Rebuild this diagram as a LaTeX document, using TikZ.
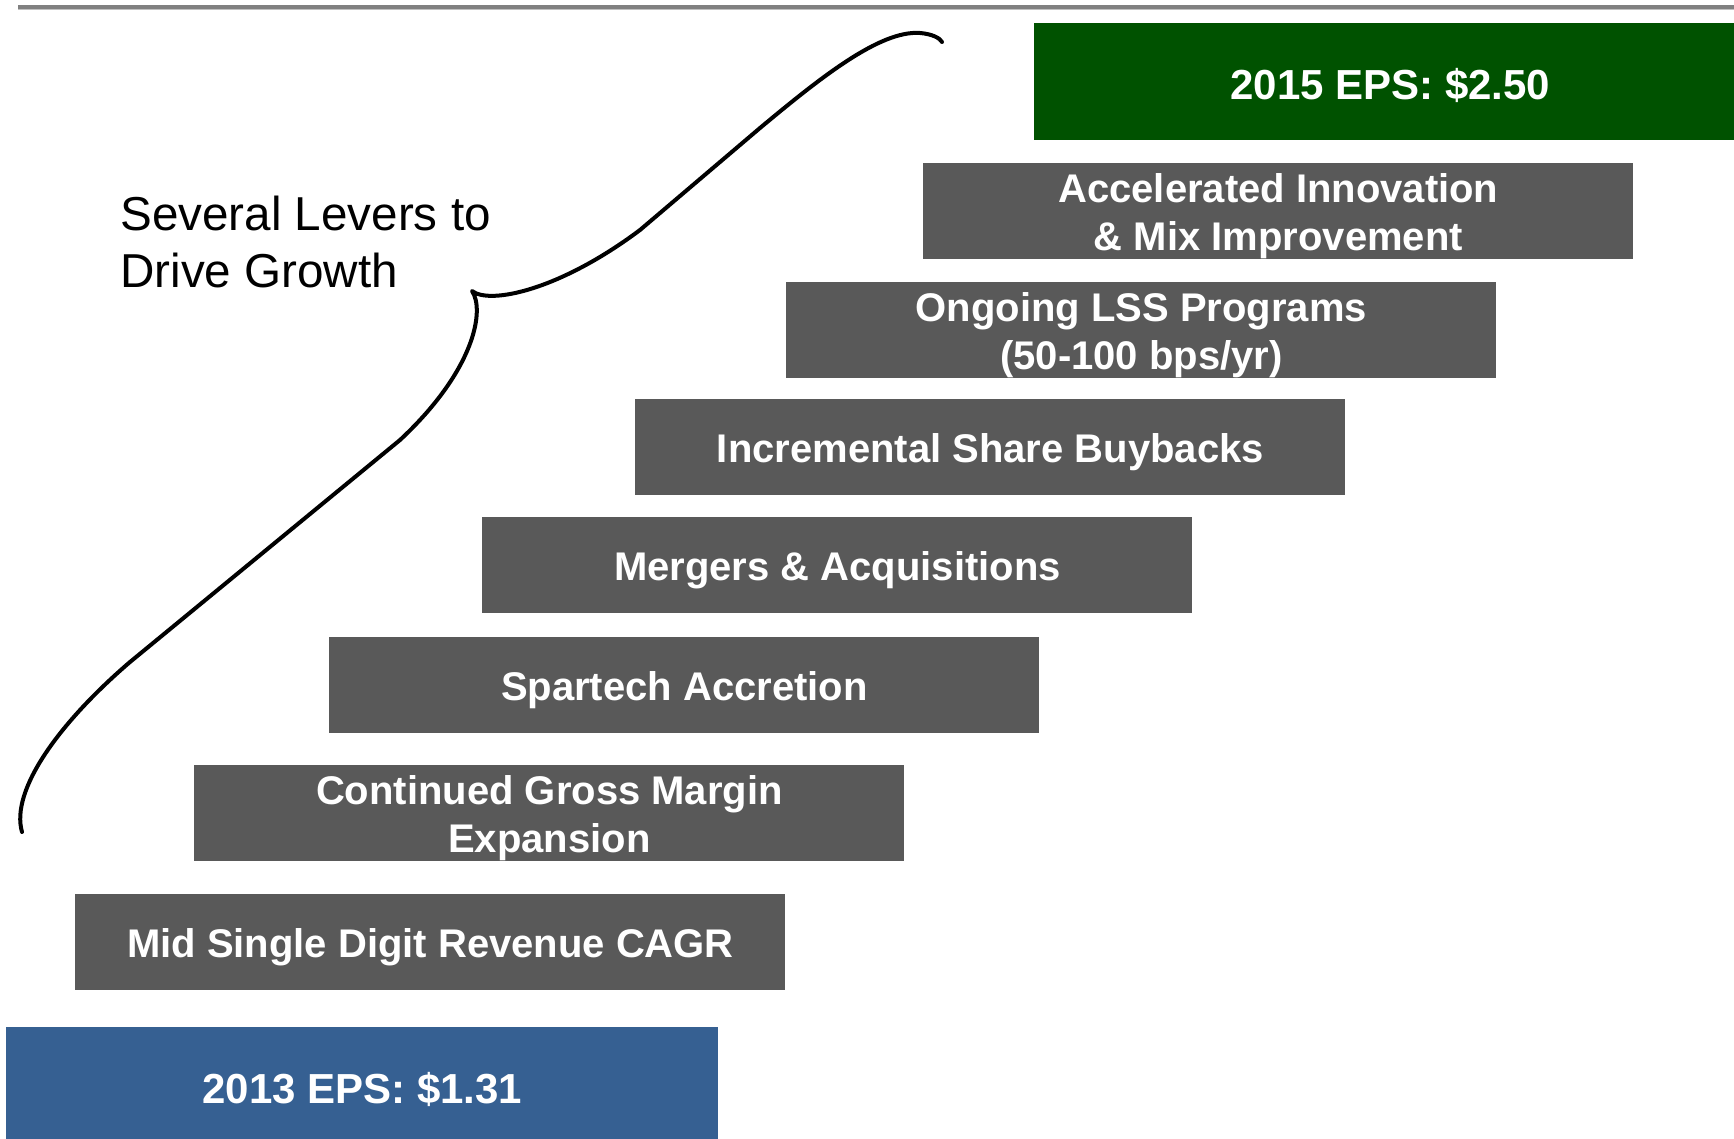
\documentclass[tikz,border=0pt]{standalone}
\usepackage{fontspec}
\setmainfont{Liberation Sans}
\definecolor{boxgray}{RGB}{89,89,89}
\definecolor{epsgreen}{RGB}{0,82,0}
\definecolor{epsblue}{RGB}{54,96,146}
\definecolor{rulegray}{RGB}{128,128,128}
\definecolor{rulelight}{RGB}{192,192,192}
\newcommand{\mylift}{\rule{0pt}{0.98em}}
\newcommand{\myliftb}{\rule{0pt}{0.9em}}
\tikzset{
  lever/.style={fill=boxgray, text=white, font=\bfseries\fontsize{20}{24}\selectfont,
    align=center, minimum width=355pt, minimum height=47.75pt, inner sep=0pt, anchor=north west},
  epsbox/.style={text=white, font=\bfseries\fontsize{21}{25}\selectfont,
    minimum width=356pt, minimum height=58.5pt, inner sep=0pt, anchor=north west},
  brace/.style={line width=2pt, line cap=round, line join=round}
}
\begin{document}
\begin{tikzpicture}[x=0.5pt,y=-0.5pt]
\useasboundingbox (0,0) rectangle (1734,1139);
% top rule
\fill[rulegray] (18,5) rectangle (1734,9.5);
\fill[rulelight] (18,9.5) rectangle (1734,10.5);
% EPS boxes
\node[epsbox, fill=epsgreen] (eps15) at (1034,23) {\myliftb 2015 EPS: \$2.50};
\node[epsbox, fill=epsblue] (eps13) at (6,1027) {\myliftb 2013 EPS: \$1.31};
% levers
\node[lever] (acc)  at (923,163) {\mylift Accelerated Innovation\\\& Mix Improvement};
\node[lever] (lss)  at (786,282) {\mylift Ongoing LSS Programs\\(50-100 bps/yr)};
\node[lever] (buy)  at (635,399) {\mylift Incremental Share Buybacks};
\node[lever] (ma)   at (482,517) {\mylift Mergers \& Acquisitions};
\node[lever] (spar) at (329,637) {\mylift Spartech Accretion};
\node[lever] (gm)   at (194,765) {\mylift Continued Gross Margin\\Expansion};
\node[lever] (rev)  at (75,894)  {\mylift Mid Single Digit Revenue CAGR};
% label
\node[anchor=north west, inner sep=0pt, align=left, font=\fontsize{23.8}{28.5}\selectfont] (levers) at (120,196) {Several Levers to\\Drive Growth};
% brace
\draw[brace] (942,42) .. controls (940,38) and (932,34) .. (920,33)
  .. controls (880,30) and (820,78) .. (760,128) -- (640,230)
  .. controls (560,290) and (490,305) .. (472,291)
  .. controls (485,310) and (475,370) .. (400,440) -- (130,662)
  .. controls (60,722) and (10,790) .. (22,832);
\end{tikzpicture}
\end{document}
